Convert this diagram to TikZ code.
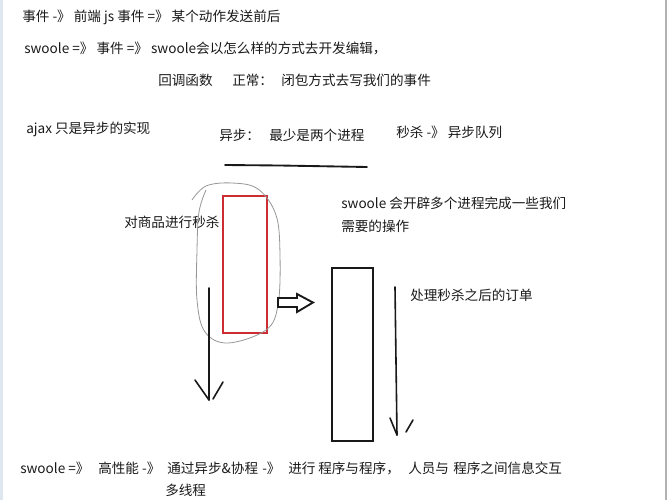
\documentclass[tikz,border=0pt]{standalone}
\usepackage{fontspec}
\setmainfont{Noto Sans CJK SC}
\usetikzlibrary{positioning}
\definecolor{pen}{RGB}{25,25,25}
\definecolor{redpen}{RGB}{205,45,50}
\definecolor{loopgray}{RGB}{150,150,150}
\definecolor{edgeblue}{RGB}{222,230,240}

\begin{document}
\begin{tikzpicture}[x=0.75pt,y=-0.75pt,
 note/.style={anchor=west, inner sep=0pt, text=pen, font=\fontsize{10.2}{12}\selectfont},
 stroke/.style={draw=pen, line width=1.2pt, line cap=round},
 blackbox/.style={draw=pen, line width=1.4pt, inner sep=0pt},
 redbox/.style={draw=redpen, line width=1.4pt, inner sep=0pt}]

    \useasboundingbox (0,0) rectangle (668,500);
    \fill[edgeblue] (0,0) rectangle (3,500);
    \draw[gray!60, line width=0.9pt] (666,0) -- (666,500);

    % top notes
    \node[note] (evt) at (22,17) {事件 -》 前端 js 事件 =》 某个动作发送前后};
    \node[note] (sw) at (24,48) {swoole =》 事件 =》 swoole会以怎么样的方式去开发编辑，};
    \node[note] (cb) at (158,80) {回调函数};
    \node[note] (normal) at (232,80) {正常：};
    \node[note] (closure) at (281,80) {闭包方式去写我们的事件};
    \node[note] (ajax) at (26,129) {ajax 只是异步的实现};
    \node[note] (async) at (219,135) {异步：};
    \node[note] (twoproc) at (269,135) {最少是两个进程};
    \node[note] (queue) at (396,132) {秒杀 -》 异步队列};
    \draw[stroke, line width=1.4pt] (225,165) -- (280,165.5) -- (367,167);

    % processes
    \node[note] (buy) at (124,222) {对商品进行秒杀};
    \node[redbox, minimum width=33pt, minimum height=102.75pt] (seckill) at (245,264.5) {};
    \draw[loopgray, line width=0.6pt] plot[smooth, tension=0.6] coordinates {(192,200) (206,186) (232,183) (258,189) (276,215) (280,255) (278,305) (266,330) (228,343) (205,332) (197,300) (197,250) (199,212) (206,190)};
    \node[note] (multi) at (341,203) {swoole 会开辟多个进程完成一些我们};
    \node[note] (need) at (341,226) {需要的操作};
    \node[blackbox, minimum width=30.75pt, minimum height=129.75pt] (worker) at (352.5,354.5) {};
    \node[note] (order) at (410,295) {处理秒杀之后的订单};

    % hollow arrow
    \draw[pen, line width=1.4pt, line join=miter] (278,298) -- (297,298) -- (297,294) -- (313,302.5) -- (297,312) -- (297,307) -- (278,307) -- cycle;

    % hand drawn arrows
    \coordinate (lt) at (209,288);
    \coordinate (lb) at (209,400);
    \draw[stroke] (lt) -- (lb);
    \draw[stroke] (195,380) -- (lb);
    \draw[stroke] (223,382) -- (213,399);
    \coordinate (rt) at (395,287);
    \coordinate (rb) at (397,435);
    \draw[stroke] (rt) -- (rb);
    \draw[stroke] (390,418) -- (rb);
    \draw[stroke] (413,420) -- (406,432);

    % bottom notes
    \node[note] (perf) at (20,468) {swoole =》};
    \node[note] (high) at (98,468) {高性能 -》};
    \node[note] (coro) at (167,468) {通过异步\&协程};
    \node[note] (then) at (262,468) {-》};
    \node[note] (doit) at (288,468) {进行};
    \node[note] (prog) at (318,468) {程序与程序，};
    \node[note] (people) at (408,468) {人员与};
    \node[note] (info) at (453,468) {程序之间信息交互};
    \node[note] (thread) at (165,490) {多线程};
\end{tikzpicture}
\end{document}
